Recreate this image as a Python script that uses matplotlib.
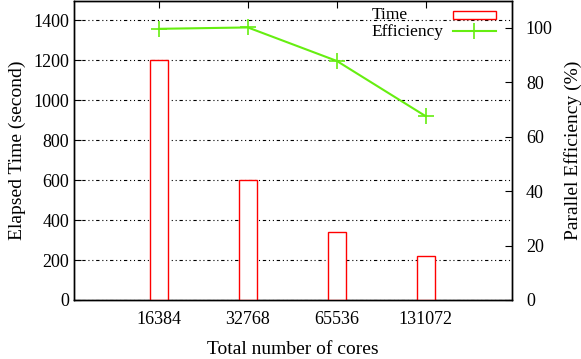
import matplotlib
matplotlib.use("Agg")
import matplotlib.pyplot as plt
import numpy as np
from matplotlib.patches import Rectangle
from matplotlib.lines import Line2D

plt.rcParams['font.family'] = ['Liberation Serif', 'DejaVu Serif']
plt.rcParams['font.size'] = 13

# data
cores = ['16384', '32768', '65536', '131072']
elapsed = [1203, 600, 341, 222]
efficiency = [99.6, 100.1, 87.8, 67.5]

green = '#66ee11'
grid_ls = (0, (1, 2.5, 1, 2.5, 3, 2.5))

fig = plt.figure(figsize=(5.81, 3.59), dpi=100)
ax = fig.add_axes([74 / 581, 59 / 359, 438 / 581, 299.5 / 359])
x = np.arange(len(cores))

# bars for elapsed time
ax.bar(x, elapsed, width=0.2, facecolor='white', edgecolor='red', linewidth=1.0, zorder=3)
ax.set_xlim(-0.955, 3.97)
ax.set_ylim(0, 1500)
ax.set_yticks(range(0, 1401, 200))
ax.set_xticks(x)
ax.set_xticklabels(cores)
ax.tick_params(axis='x', bottom=False, top=True, direction='in', length=5, pad=8)
ax.tick_params(axis='y', direction='in', length=5, right=False)
ax.yaxis.grid(True, color='black', linestyle=grid_ls, linewidth=0.8)
ax.set_axisbelow(True)
ax.set_ylabel('Elapsed Time (second)', fontsize=14, labelpad=5)
ax.set_xlabel('Total number of cores', fontsize=14, labelpad=9)

# efficiency on the right axis
ax2 = ax.twinx()
ax2.plot(x, efficiency, color=green, linewidth=1.5, marker='+', markersize=11,
         markeredgewidth=1.2, zorder=4)
ax2.set_ylim(0, 110)
ax2.set_yticks(range(0, 101, 20))
ax2.tick_params(axis='y', direction='in', length=5, pad=10)
ax2.set_ylabel('Parallel Efficiency (%)', fontsize=14, labelpad=8)

for a in (ax, ax2):
    for s in a.spines.values():
        s.set_linewidth(1.0)

# key, gnuplot style: left-justified text, samples to the right
tr = ax2.transAxes
ax2.text(0.680, 1 - 18.5 / 300, 'Time', transform=tr, ha='left', va='baseline', fontsize=12.5)
ax2.text(0.680, 1 - 36 / 300, 'Efficiency', transform=tr, ha='left', va='baseline',
         fontsize=12.5)
ax2.add_patch(Rectangle((0.865, 1 - 19 / 300), 0.098, 8 / 300, transform=tr,
                        facecolor='white', edgecolor='red', linewidth=1.0, clip_on=False))
ax2.add_line(Line2D([0.865, 0.963], [1 - 31 / 300] * 2, transform=tr, color=green,
                    linewidth=1.5))
ax2.add_line(Line2D([0.914], [1 - 31 / 300], transform=tr, color=green, marker='+',
                    markersize=11, markeredgewidth=1.2, linestyle='none'))

fig.savefig('out.png', dpi=100)
